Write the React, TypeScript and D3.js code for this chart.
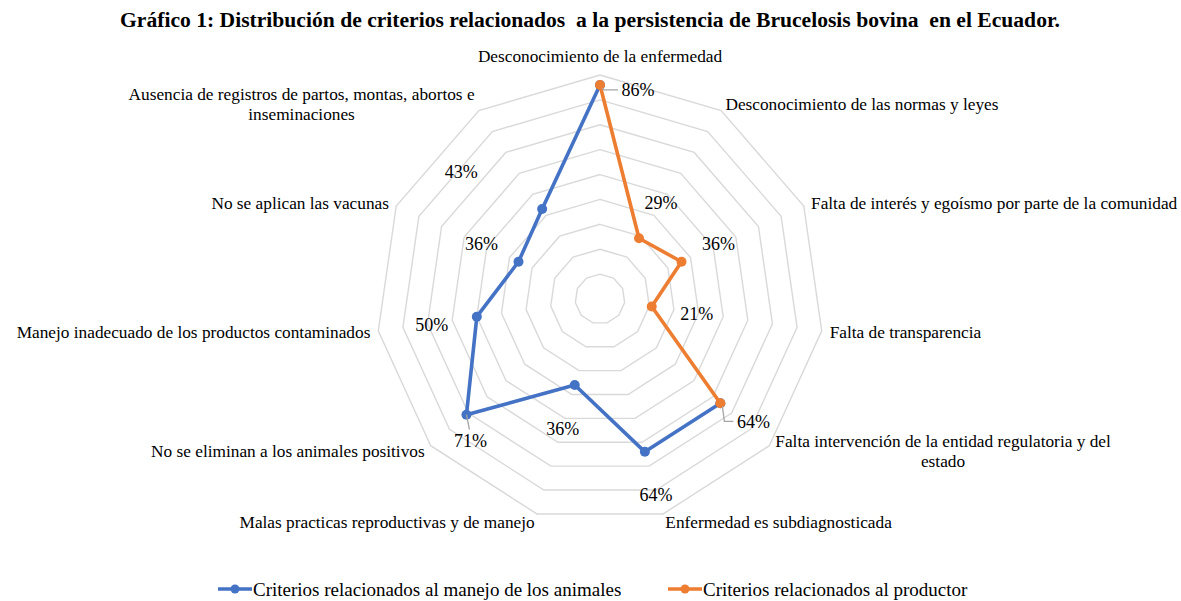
import { useEffect, useRef } from "react";
import * as d3 from "d3";

const categories = [
  "Desconocimiento de la enfermedad",
  "Desconocimiento de las normas y leyes",
  "Falta de interés y egoísmo por parte de la comunidad",
  "Falta de transparencia",
  "Falta intervención de la entidad regulatoria y del\nestado",
  "Enfermedad es subdiagnosticada",
  "Malas practicas reproductivas y de manejo",
  "No se eliminan a los animales positivos",
  "Manejo inadecuado de los productos contaminados",
  "No se aplican las vacunas",
  "Ausencia de registros de partos, montas, abortos e\ninseminaciones",
];

// null = sin dato para ese criterio
const manejoAnimales = [0.86, null, null, null, 0.64, 0.64, 0.36, 0.71, 0.5, 0.36, 0.43];
const productor = [0.86, 0.29, 0.36, 0.21, 0.64, null, null, null, null, null, null];

const seriesNames = [
  "Criterios relacionados al manejo de los animales",
  "Criterios relacionados al productor",
];

const ringTicks = [0.1, 0.2, 0.3, 0.4, 0.5, 0.6, 0.7, 0.8, 0.9];

const title =
  "Gráfico 1: Distribución de criterios relacionados  a la persistencia de Brucelosis bovina  en el Ecuador.";

// label nudges (dx, dy) as Excel placed them, null = hidden label
const manejoLabelNudge: ([number, number, string] | null)[] = [
  null, null, null, null, null,
  [11, 43, ""], [-12, 44, ""], [4, 26, "top"], [-45, 8, ""], [-37, -18, ""], [-81, -37, ""],
];
const productorLabelNudge: ([number, number, string] | null)[] = [
  [38, 5, "left"], [22, -36, ""], [37, -18, ""], [45, 7, ""], [33, 18, "left"],
  null, null, null, null, null, null,
];

const FONT = "'Liberation Serif', 'Times New Roman', serif";
const BLUE = "#4472C4";
const ORANGE = "#ED7D31";

export default function App() {
  const svgRef = useRef<SVGSVGElement>(null);

  useEffect(() => {
    if (!svgRef.current) return;
    const svg = d3.select(svgRef.current);
    svg.selectAll("*").remove();

    const cx = 600;
    const cy = 299;
    const R = 224;
    const n = categories.length;
    const angle = (i: number) => (i * 2 * Math.PI) / n;

    const rScale = d3.scaleLinear().domain([0, 0.9]).range([0, R]);

    svg
      .append("rect")
      .attr("width", 1181)
      .attr("height", 601)
      .attr("fill", "#fff");

    // Title
    svg
      .append("text")
      .attr("x", 590)
      .attr("y", 27)
      .attr("text-anchor", "middle")
      .attr("font-family", FONT)
      .attr("font-weight", "bold")
      .attr("font-size", "21.6px")
      .attr("fill", "#000")
      .attr("xml:space", "preserve")
      .style("white-space", "pre")
      .text(title);

    const g = svg.append("g").attr("transform", `translate(${cx},${cy})`);

    // Grid rings
    const ringLine = d3
      .lineRadial<number>()
      .angle((_, i) => angle(i))
      .radius((d) => rScale(d))
      .curve(d3.curveLinearClosed);

    g.selectAll(".ring")
      .data(ringTicks)
      .enter()
      .append("path")
      .attr("class", "ring")
      .attr("d", (t) => ringLine(categories.map(() => t)))
      .attr("fill", "none")
      .attr("stroke", "#d9d9d9")
      .attr("stroke-width", 1.4);

    // Category labels
    categories.forEach((label, i) => {
      const a = angle(i);
      const s = Math.sin(a);
      const c = Math.cos(a);
      const rr = R + 8;
      const x = rr * s;
      let y = -rr * c;
      const lines = label.split("\n");
      const lineH = 19.5;
      let anchor = "middle";
      if (Math.abs(s) < 0.05) {
        y += -c * 11;
      } else {
        anchor = s > 0 ? "start" : "end";
      }
      const t = g
        .append("text")
        .attr("font-family", FONT)
        .attr("font-size", "17.3px")
        .attr("fill", "#000")
        .attr("text-anchor", "middle");
      const spans = lines.map((ln, k) =>
        t
          .append("tspan")
          .attr("x", 0)
          .attr("y", y + (k - (lines.length - 1) / 2) * lineH)
          .attr("dy", "0.35em")
          .text(ln)
      );
      const maxW = d3.max(spans, (sp) => (sp.node() as SVGTextContentElement).getComputedTextLength()) ?? 0;
      let mx = x;
      if (anchor === "start") mx = x + maxW / 2;
      if (anchor === "end") mx = x - maxW / 2;
      spans.forEach((sp) => sp.attr("x", mx));
    });

    const point = (v: number, i: number): [number, number] => [
      rScale(v) * Math.sin(angle(i)),
      -rScale(v) * Math.cos(angle(i)),
    ];

    const seriesLine = d3
      .lineRadial<{ v: number | null; i: number }>()
      .defined((d) => d.v !== null)
      .angle((d) => angle(d.i))
      .radius((d) => rScale(d.v as number));

    const drawSeries = (values: (number | null)[], color: string) => {
      const pts = values.map((v, i) => ({ v, i }));
      const closed = [...pts, { v: values[0], i: 0 }];
      g.append("path")
        .attr("d", seriesLine(closed) ?? "")
        .attr("fill", "none")
        .attr("stroke", color)
        .attr("stroke-width", 3.6)
        .attr("stroke-linejoin", "round");

      g.selectAll(null)
        .data(pts.filter((d) => d.v !== null))
        .enter()
        .append("circle")
        .attr("cx", (d) => point(d.v as number, d.i)[0])
        .attr("cy", (d) => point(d.v as number, d.i)[1])
        .attr("r", 5)
        .attr("fill", color);
    };

    const drawLabels = (
      values: (number | null)[],
      nudges: ([number, number, string] | null)[]
    ) => {
      values.forEach((v, i) => {
        const nd = nudges[i];
        if (v === null || !nd) return;
        const [px, py] = point(v, i);
        const lx = px + nd[0];
        const ly = py + nd[1];
        if (nd[2] === "left") {
          g.append("path")
            .attr("d", `M${px + 2},${py + 3}L${px + 4},${ly}L${lx - 20},${ly}`)
            .attr("fill", "none")
            .attr("stroke", "#a6a6a6")
            .attr("stroke-width", 1.3);
        } else if (nd[2] === "top") {
          g.append("path")
            .attr("d", `M${px},${py}L${lx - 1},${ly - 11}`)
            .attr("fill", "none")
            .attr("stroke", "#a6a6a6")
            .attr("stroke-width", 1.3);
        }
        g.append("text")
          .attr("x", lx)
          .attr("y", ly)
          .attr("dy", "0.35em")
          .attr("text-anchor", "middle")
          .attr("font-family", FONT)
          .attr("font-size", "18px")
          .attr("fill", "#000")
          .text(`${Math.round(v * 100)}%`);
      });
    };

    drawSeries(manejoAnimales, BLUE);
    drawSeries(productor, ORANGE);
    drawLabels(manejoAnimales, manejoLabelNudge);
    drawLabels(productor, productorLabelNudge);

    // Legend
    const legendX = [218, 668];
    const legendColors = [BLUE, ORANGE];
    const legendY = 589;
    seriesNames.forEach((name, k) => {
      const lg = svg.append("g").attr("transform", `translate(${legendX[k]},${legendY})`);
      lg.append("line")
        .attr("x1", 0)
        .attr("x2", 34)
        .attr("y1", 0)
        .attr("y2", 0)
        .attr("stroke", legendColors[k])
        .attr("stroke-width", 3.6);
      lg.append("circle").attr("cx", 17).attr("cy", 0).attr("r", 4.5).attr("fill", legendColors[k]);
      lg.append("text")
        .attr("x", 35)
        .attr("y", 0)
        .attr("dy", "0.35em")
        .attr("font-family", FONT)
        .attr("font-size", "19px")
        .attr("fill", "#000")
        .text(name);
    });

    return () => {
      svg.selectAll("*").remove();
    };
  }, []);

  return (
    <svg
      ref={svgRef}
      width={1181}
      height={601}
      style={{ position: "absolute", left: 0, top: 0 }}
    />
  );
}
